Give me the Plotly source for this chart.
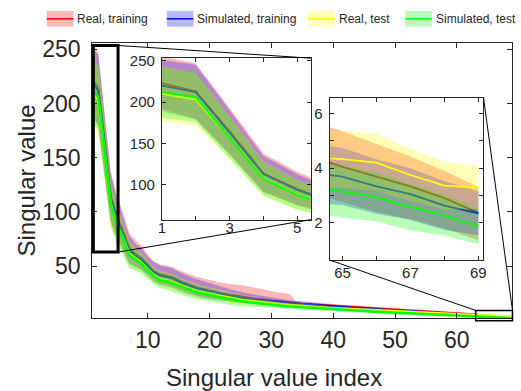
import plotly.graph_objects as go

W, H = 521, 391
FONT = "Liberation Sans, Arial, sans-serif"
INK = "#262626"

# Singular value index
idx = list(range(1, 70))

# Mean singular values per group
real_train = [223, 213, 165, 114, 95, 82, 66, 61, 57, 51,
              45, 42, 41, 39.5, 36.5, 34, 32, 30, 28.5, 27.2,
              26, 24.8, 23.7, 22.6, 21.6, 20.8, 20, 19.3, 18.6, 18,
              17.4, 16.8, 16.2, 15.7, 15.2, 14.8, 14.4, 14.0, 13.6, 13.2,
              12.8, 12.4, 12.0, 11.6, 11.2, 10.8, 10.5, 10.2, 9.9, 9.6,
              9.3, 9.0, 8.7, 8.4, 8.1, 7.8, 7.5, 7.2, 6.9, 6.6,
              6.2, 5.8, 5.3, 4.45, 4.05, 3.69, 3.33, 2.9, 2.36]
sim_train = [220, 212, 163, 113, 94, 80, 65, 60, 56.5, 50,
             44.5, 41.5, 40.5, 39, 36, 33.6, 31.5, 29.7, 28.2, 26.8,
             25.6, 24.4, 23.3, 22.2, 21.2, 20.4, 19.6, 18.9, 18.2, 17.6,
             17.0, 16.4, 15.8, 15.3, 14.8, 14.3, 13.9, 13.5, 13.1, 12.7,
             12.3, 11.9, 11.5, 11.1, 10.7, 10.3, 10.0, 9.7, 9.4, 9.1,
             8.8, 8.5, 8.2, 7.9, 7.6, 7.3, 7.0, 6.7, 6.4, 6.1,
             5.7, 5.2, 4.6, 3.85, 3.69, 3.33, 3.05, 2.63, 2.34]
real_test = [210, 203, 157, 107.5, 88.5, 76, 61.5, 57, 53, 47,
             41.5, 38, 37, 35, 33, 30.5, 28.5, 27, 25.7, 24.5,
             23.3, 22.2, 21.1, 20.1, 19.1, 18.3, 17.6, 16.9, 16.3, 15.7,
             15.2, 14.7, 14.2, 13.7, 13.3, 12.9, 12.5, 12.1, 11.7, 11.3,
             10.9, 10.6, 10.3, 10.0, 9.7, 9.4, 9.1, 8.8, 8.5, 8.3,
             8.0, 7.8, 7.5, 7.3, 7.0, 6.8, 6.5, 6.3, 6.0, 5.8,
             5.5, 5.2, 4.9, 4.4, 4.33, 4.2, 3.75, 3.36, 3.29]
sim_test = [212, 206, 157, 107, 88, 75, 60, 56, 52, 46,
            40.5, 37, 36, 34, 32, 29.4, 27.3, 25.7, 24.5, 23.3,
            22.0, 20.9, 19.8, 18.7, 17.6, 16.9, 16.2, 15.5, 14.9, 14.3,
            13.8, 13.3, 12.8, 12.4, 12.0, 11.6, 11.2, 10.8, 10.5, 10.2,
            9.8, 9.5, 9.2, 8.9, 8.6, 8.3, 8.0, 7.7, 7.4, 7.2,
            6.9, 6.7, 6.4, 6.2, 5.9, 5.7, 5.4, 5.2, 5.0, 4.7,
            4.4, 4.1, 3.8, 3.35, 3.15, 2.94, 2.57, 2.27, 1.86]

# Spread of each group (upper / lower distance from the mean)
real_train_up = [32, 34, 28, 24, 21, 18, 15, 13, 12, 10,
                 9.5, 9.5, 9.5, 9.5, 10, 10, 10, 10, 10, 10,
                 10, 10, 10, 10.5, 11, 11, 10.5, 10, 9.5, 9,
                 8.5, 8.5, 8, 2.2, 2.1, 2.0, 2.0, 1.9, 1.9, 1.8,
                 1.8, 1.8, 1.7, 1.7, 1.7, 1.6, 1.6, 1.6, 1.5, 1.5,
                 1.5, 1.5, 1.4, 1.4, 1.4, 1.4, 1.4, 1.3, 1.3, 1.3,
                 1.3, 1.3, 1.3, 1.3, 1.3, 1.2, 1.1, 1.0, 0.95]
real_train_dn = [31, 33, 27, 22, 19, 16, 13, 11, 10, 8.5,
                 8, 8, 8, 8, 8, 7.5, 7.5, 7, 7, 6.5,
                 6, 6, 5.5, 5.5, 5, 5, 4.5, 4.5, 4, 4,
                 3.5, 3.5, 3, 2.2, 2.1, 2.0, 2.0, 1.9, 1.9, 1.8,
                 1.8, 1.8, 1.7, 1.7, 1.7, 1.6, 1.6, 1.6, 1.5, 1.5,
                 1.5, 1.5, 1.4, 1.4, 1.4, 1.4, 1.4, 1.3, 1.3, 1.3,
                 1.3, 1.3, 1.3, 1.3, 1.3, 1.3, 1.2, 1.1, 1.0]
sim_train_sd = [31, 33, 27, 22, 19, 16, 13, 11, 10, 8.5,
                9, 9, 9, 9, 9, 8.5, 8.5, 8, 8, 7.5,
                7, 6.5, 6, 5.5, 5, 4.7, 4.4, 4.1, 3.8, 3.5,
                3.2, 3, 2.8, 2.6, 2.4, 2.2, 2.1, 2, 1.9, 1.8,
                1.7, 1.7, 1.6, 1.6, 1.5, 1.5, 1.5, 1.4, 1.4, 1.4,
                1.3, 1.3, 1.3, 1.3, 1.2, 1.2, 1.2, 1.2, 1.2, 1.1,
                1.1, 1.1, 1.1, 1.1, 1.05, 1.0, 0.95, 0.9, 0.8]
real_test_sd = [33, 32, 26, 21, 18, 15, 12, 10, 9, 8,
                7.5, 7.5, 7.5, 7.5, 7.5, 7, 7, 6.5, 6.5, 6,
                5.8, 5.5, 5.2, 5, 4.7, 4.4, 4.1, 3.8, 3.5, 3.2,
                3, 2.8, 2.7, 2.6, 2.5, 2.4, 2.3, 2.2, 2.1, 2,
                1.9, 1.9, 1.8, 1.8, 1.7, 1.7, 1.6, 1.6, 1.5, 1.5,
                1.5, 1.4, 1.4, 1.4, 1.3, 1.3, 1.3, 1.2, 1.2, 1.2,
                1.2, 1.2, 1.15, 1.1, 1.05, 1.05, 0.95, 0.87, 0.8]
sim_test_sd = [31, 30, 25, 20, 18, 15, 12, 10, 9, 8,
               7.5, 7.5, 7.5, 7.5, 7.5, 7, 7, 6.5, 6.5, 6,
               5.8, 5.5, 5.2, 5, 4.7, 4.4, 4.1, 3.8, 3.5, 3.2,
               3, 2.8, 2.7, 2.6, 2.5, 2.4, 2.3, 2.2, 2.1, 2,
               1.9, 1.9, 1.8, 1.8, 1.7, 1.7, 1.6, 1.6, 1.5, 1.5,
               1.5, 1.4, 1.4, 1.4, 1.3, 1.3, 1.3, 1.2, 1.2, 1.2,
               1.1, 1.1, 1.0, 1.0, 0.95, 0.9, 0.85, 0.75, 0.65]

names = ["Real, training", "Simulated, training", "Real, test", "Simulated, test"]
means = [real_train, sim_train, real_test, sim_test]
ups = [real_train_up, sim_train_sd, real_test_sd, sim_test_sd]
dns = [real_train_dn, sim_train_sd, real_test_sd, sim_test_sd]
line_colors = ["#ff0000", "#0000ff", "#ffff00", "#00ff00"]
band_colors = ["rgba(255,0,0,0.28)", "rgba(0,0,255,0.28)",
               "rgba(255,255,0,0.28)", "rgba(0,255,0,0.28)"]

# Axis ranges
main_x = [1, 69]
main_y = [1.8, 256]
zoom1_x = [1, 5.4]
zoom1_y = [58, 253]
zoom2_x = [64.62, 69.15]
zoom2_y = [0.63, 6.59]

# Axis boxes in pixels: left, right, top, bottom
main_box = (89.3, 515.4, 37.3, 317.3)
inset1_box = (160, 311, 53, 217)
inset2_box = (330, 486, 93, 258)


def dom(box):
    l, r, t, b = box
    return [l / W, r / W], [1 - b / H, 1 - t / H]


def main_to_paper(x, y):
    l, r, t, b = main_box
    px = l + (x - main_x[0]) / (main_x[1] - main_x[0]) * (r - l)
    py = b - (y - main_y[0]) / (main_y[1] - main_y[0]) * (b - t)
    return px / W, 1 - py / H


def box_corner(box, cx, cy):
    l, r, t, b = box
    return (l if cx == "l" else r) / W, 1 - (t if cy == "t" else b) / H


fig = go.Figure()

panels = [("x", "y", 2.5), ("x2", "y2", 1.8), ("x3", "y3", 1.8)]
for xa, ya, lw in panels:
    for name, m, up, dn, lc, bc in zip(names, means, ups, dns, line_colors, band_colors):
        hi = [a + b for a, b in zip(m, up)]
        lo = [a - b for a, b in zip(m, dn)]
        fig.add_trace(go.Scatter(
            x=idx + idx[::-1], y=hi + lo[::-1], fill="toself", fillcolor=bc,
            line=dict(width=0), mode="lines", hoverinfo="skip",
            showlegend=False, xaxis=xa, yaxis=ya))
        fig.add_trace(go.Scatter(
            x=idx, y=m, mode="lines", line=dict(color=lc, width=lw),
            name=name, showlegend=False, xaxis=xa, yaxis=ya))

axis_common = dict(showgrid=False, zeroline=False, showline=True, linecolor=INK,
                   linewidth=1, mirror="ticks", ticks="inside", tickcolor=INK,
                   tickfont=dict(family=FONT, color=INK))

mx, my = dom(main_box)
i1x, i1y = dom(inset1_box)
i2x, i2y = dom(inset2_box)

fig.update_layout(
    width=W, height=H, margin=dict(l=0, r=0, t=0, b=0),
    paper_bgcolor="white", plot_bgcolor="white", showlegend=False,
    xaxis=dict(axis_common, domain=mx, range=main_x, anchor="y",
               tickvals=[10, 20, 30, 40, 50, 60], ticklen=5,
               tickfont=dict(family=FONT, color=INK, size=23), ticklabelstandoff=1),
    yaxis=dict(axis_common, domain=my, range=main_y, anchor="x",
               tickvals=[50, 100, 150, 200, 250], ticklen=5,
               tickfont=dict(family=FONT, color=INK, size=23), ticklabelstandoff=6),
    xaxis2=dict(axis_common, domain=i1x, range=zoom1_x, anchor="y2",
                tickvals=[1, 2, 3, 4, 5], ticktext=["1", "", "3", "", "5"], ticklen=4,
                tickfont=dict(family=FONT, color=INK, size=15), ticklabelstandoff=-6),
    yaxis2=dict(axis_common, domain=i1y, range=zoom1_y, anchor="x2",
                tickvals=[100, 150, 200, 250], ticklen=4,
                tickfont=dict(family=FONT, color=INK, size=15), ticklabelstandoff=3),
    xaxis3=dict(axis_common, domain=i2x, range=zoom2_x, anchor="y3",
                tickvals=[65, 66, 67, 68, 69], ticktext=["65", "", "67", "", "69"], ticklen=4,
                tickfont=dict(family=FONT, color=INK, size=15), ticklabelstandoff=-1),
    yaxis3=dict(axis_common, domain=i2y, range=zoom2_y, anchor="x3",
                tickvals=[2, 3, 4, 5, 6], ticktext=["2", "", "4", "", "6"], ticklen=4,
                tickfont=dict(family=FONT, color=INK, size=15), ticklabelstandoff=3),
)

shapes = []
# Zoom region markers on the main axes
z1 = ([1.2, 5.2], [63, 253.5])
x0, y0 = main_to_paper(z1[0][0], z1[1][0])
x1, y1 = main_to_paper(z1[0][1], z1[1][1])
shapes.append(dict(type="rect", xref="paper", yref="paper", x0=x0, y0=y0, x1=x1, y1=y1,
                   line=dict(color="black", width=3)))
for (ax, ay), (bx, by) in [((x1, y1), box_corner(inset1_box, "r", "t")),
                           ((x1, y0), box_corner(inset1_box, "r", "b"))]:
    shapes.append(dict(type="line", xref="paper", yref="paper", x0=ax, y0=ay, x1=bx, y1=by,
                       line=dict(color="black", width=1)))

z2 = ([63.05, 69], [-0.3, 9.2])
x0, y0 = main_to_paper(z2[0][0], z2[1][0])
x1, y1 = main_to_paper(z2[0][1], z2[1][1])
shapes.append(dict(type="rect", xref="paper", yref="paper", x0=x0, y0=y0, x1=x1, y1=y1,
                   line=dict(color="black", width=1.5)))
for (ax, ay), (bx, by) in [((x1, y1), box_corner(inset2_box, "r", "t")),
                           ((x0, y1), box_corner(inset2_box, "l", "b"))]:
    shapes.append(dict(type="line", xref="paper", yref="paper", x0=ax, y0=ay, x1=bx, y1=by,
                       line=dict(color="black", width=1)))

# Legend row
legend_x = [43.3, 165, 308.3, 406.7]
annotations = []
for name, lx, lc, bc in zip(names, legend_x, line_colors, band_colors):
    shapes.append(dict(type="rect", xref="paper", yref="paper",
                       x0=lx / W, x1=(lx + 27) / W, y0=1 - 21 / H, y1=1 - 5 / H,
                       fillcolor=bc, line=dict(width=0)))
    shapes.append(dict(type="line", xref="paper", yref="paper",
                       x0=lx / W, x1=(lx + 27) / W, y0=1 - 13 / H, y1=1 - 13 / H,
                       line=dict(color=lc, width=1.5)))
    annotations.append(dict(text=name, xref="paper", yref="paper", x=(lx + 29) / W,
                            y=1 - 13 / H, xanchor="left", yanchor="middle", showarrow=False,
                            font=dict(family=FONT, size=12, color=INK)))

# Axis titles
annotations.append(dict(text="Singular value index", xref="paper", yref="paper",
                        x=274 / W, y=1 - 377 / H, xanchor="center", yanchor="middle",
                        showarrow=False, font=dict(family=FONT, size=24, color=INK)))
annotations.append(dict(text="Singular value", xref="paper", yref="paper",
                        x=22.5 / W, y=1 - 177 / H, xanchor="center", yanchor="middle",
                        textangle=-90, showarrow=False,
                        font=dict(family=FONT, size=24, color=INK)))

fig.update_layout(shapes=shapes, annotations=annotations)
fig.write_html("out.html")
